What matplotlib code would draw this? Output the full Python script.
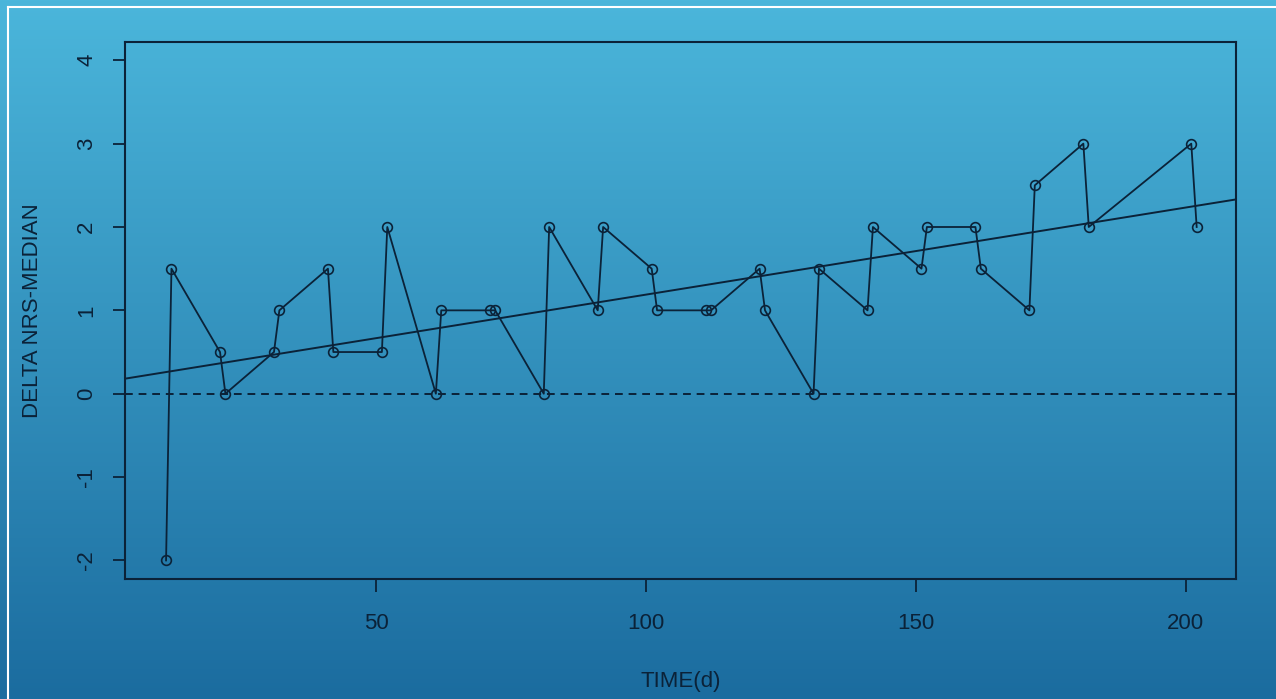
import matplotlib
matplotlib.use('Agg')
import matplotlib.pyplot as plt
import numpy as np
from matplotlib.colors import LinearSegmentedColormap

plt.rcParams['font.family'] = ['Liberation Sans', 'DejaVu Sans']

# Time (days) and delta NRS - median
time_d = [11, 12, 21, 22, 31, 32, 41, 42, 51, 52, 61, 62, 71, 72, 81, 82,
          91, 92, 101, 102, 111, 112, 121, 122, 131, 132, 141, 142, 151, 152,
          161, 162, 171, 172, 181, 182, 201, 202]
delta_nrs = [-2, 1.5, 0.5, 0, 0.5, 1, 1.5, 0.5, 0.5, 2, 0, 1, 1, 1, 0, 2,
             1, 2, 1.5, 1, 1, 1, 1.5, 1, 0, 1.5, 1, 2, 1.5, 2,
             2, 1.5, 1, 2.5, 3, 2, 3, 2]

x_ticks = [50, 100, 150, 200]
y_ticks = [-2, -1, 0, 1, 2, 3, 4]

ink = '#0b2238'

fig = plt.figure(figsize=(12.76, 6.99), dpi=100)

# blue gradient background over the whole figure (light at top, dark at bottom)
bg = fig.add_axes([0, 0, 1, 1], zorder=-10)
grad = np.linspace(0, 1, 256).reshape(-1, 1)
cmap = LinearSegmentedColormap.from_list('bg', ['#4bb6db', '#1b6c9f'])
bg.imshow(grad, aspect='auto', cmap=cmap, extent=[0, 1, 1, 0], origin='upper')
bg.set_xlim(0, 1)
bg.set_ylim(1, 0)
bg.axis('off')
# white frame lines at left and top
bg.plot([8 / 1276, 8 / 1276], [7 / 699, 1], color='white', lw=1.5)
bg.plot([8 / 1276, 1], [7 / 699, 7 / 699], color='white', lw=1.5)

ax = fig.add_axes([0.098, 0.172, 0.8707, 0.768])
ax.patch.set_alpha(0)

ax.plot(time_d, delta_nrs, color=ink, lw=1.3, marker='o', ms=7,
        mfc='none', mec=ink, mew=1.2)

# least squares trend line
slope, intercept = np.polyfit(time_d, delta_nrs, 1)
ax.axline((0, intercept), slope=slope, color=ink, lw=1.4)
ax.axhline(0, color=ink, lw=1.4, ls=(0, (4, 3)))

ax.set_xlim(3.4, 209.3)
ax.set_ylim(-2.22, 4.22)
ax.set_xticks(x_ticks)
ax.set_yticks(y_ticks)
ax.set_yticklabels([str(v) for v in y_ticks], rotation=90, va='center')
ax.tick_params(colors=ink, labelcolor=ink, labelsize=16, length=9, width=1.3)
ax.tick_params(axis='x', pad=16)
ax.tick_params(axis='y', pad=11)
for s in ax.spines.values():
    s.set_color(ink)
    s.set_linewidth(1.5)

ax.set_xlabel('TIME(d)', fontsize=16, color=ink, labelpad=26)
ax.set_ylabel('DELTA NRS-MEDIAN', fontsize=16, color=ink, labelpad=24)

fig.savefig('out.png', dpi=100)
